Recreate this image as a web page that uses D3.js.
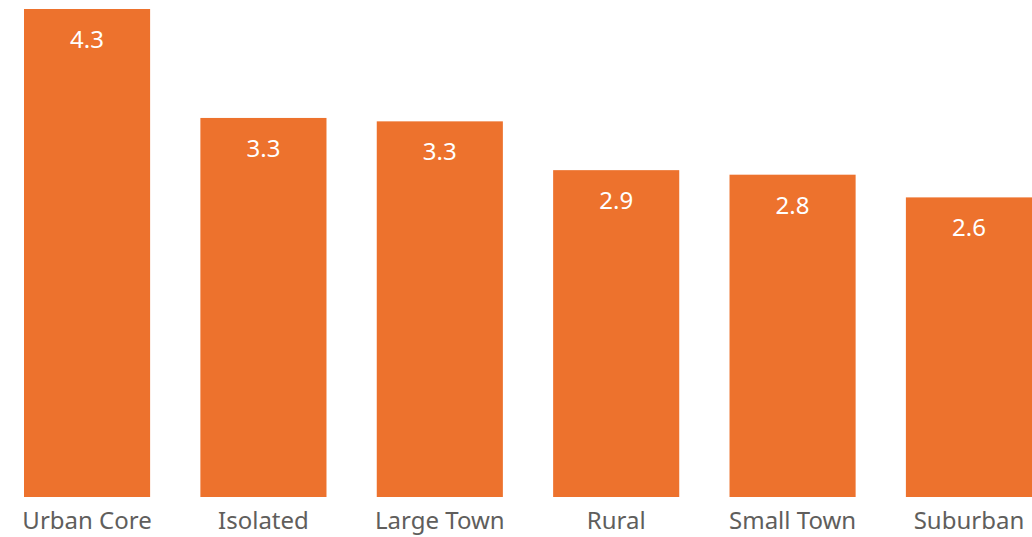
<!DOCTYPE html>
<html>
<head>
<meta charset="utf-8">
<script src="https://cdn.jsdelivr.net/npm/d3@7"></script>
<style>
  html, body { margin: 0; padding: 0; background: #fff; }
  #vis svg { display: block; }
</style>
</head>
<body>
<div id="vis"></div>
<script>
// Bar chart by area type
const categories = ["Urban Core", "Isolated", "Large Town", "Rural", "Small Town", "Suburban"];
const values = [4.30, 3.34, 3.31, 2.88, 2.84, 2.64];

const width = 1032;
const height = 537;
const margin = { top: 9, right: 0, bottom: 40, left: 24 };

const svg = d3.select("#vis")
  .append("svg")
  .attr("width", width)
  .attr("height", height);

const xScale = d3.scaleBand()
  .domain(categories)
  .range([margin.left, width - margin.right])
  .paddingInner(0.285)
  .paddingOuter(0);

const yScale = d3.scaleLinear()
  .domain([0, 4.3])
  .range([height - margin.bottom, margin.top]);

// Bars
svg.selectAll("rect.bar")
  .data(categories)
  .enter()
  .append("rect")
  .attr("class", "bar")
  .attr("x", d => xScale(d))
  .attr("y", (d, i) => yScale(values[i]))
  .attr("width", xScale.bandwidth())
  .attr("height", (d, i) => yScale(0) - yScale(values[i]))
  .attr("fill", "#ED722D");

// Value labels inside bars
svg.selectAll("text.value")
  .data(categories)
  .enter()
  .append("text")
  .attr("class", "value")
  .attr("x", d => xScale(d) + xScale.bandwidth() / 2)
  .attr("y", (d, i) => yScale(values[i]) + 39)
  .attr("text-anchor", "middle")
  .attr("fill", "#ffffff")
  .attr("font-family", "'Noto Sans', 'Open Sans', sans-serif")
  .attr("font-size", "24px")
  .text((d, i) => values[i].toFixed(1));

// Category axis
const xAxis = svg.append("g")
  .attr("transform", `translate(0,${height - margin.bottom})`)
  .call(d3.axisBottom(xScale).tickSize(0).tickPadding(15));

xAxis.select(".domain").remove();
xAxis.selectAll("text")
  .attr("fill", "#605E5C")
  .attr("font-family", "'Noto Sans', 'Open Sans', sans-serif")
  .attr("font-size", "24px");
</script>
</body>
</html>
